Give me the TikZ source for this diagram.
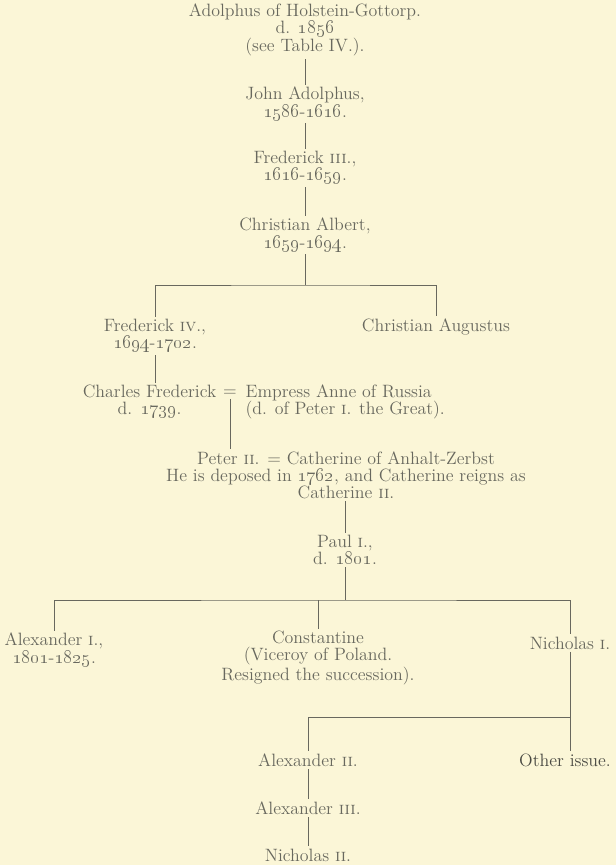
\documentclass[tikz,border=0pt]{standalone}
\usepackage{tikz}
\usetikzlibrary{positioning, calc}
\definecolor{paper}{HTML}{FBF6D7}
\definecolor{ink}{HTML}{68685E}
\newcommand{\yr}[1]{\oldstylenums{#1}}
\newcommand{\rn}[1]{\textsc{#1}}

\begin{document}
\begin{tikzpicture}[
	x=0.75pt, y=-0.75pt,
	person/.style={align=center, inner sep=1pt, outer sep=1pt, text=ink, font=\fontsize{13.4}{12.8}\selectfont},
	line/.style={draw=ink, line width=0.5pt}
]
	\useasboundingbox (0,0) rectangle (616,865);
	\fill[paper] (0,0) rectangle (616,865);

	% Holstein-Gottorp line
	\node[person] (adolphus) at (305,30) {Adolphus of Holstein-Gottorp.\\d. \yr{1856}\\(see Table IV.).};
	\node[person] (jadolphus) at (305,104) {John Adolphus,\\\yr{1586}-\yr{1616}.};
	\node[person] (fred3) at (305,168) {Frederick \rn{iii}.,\\\yr{1616}-\yr{1659}.};
	\node[person] (calbert) at (305,235) {Christian Albert,\\\yr{1659}-\yr{1694}.};
	\coordinate (bar1) at (305,285);

	% Sons of Christian Albert
	\node[person] (fred4) at (155,336) {Frederick \rn{iv}.,\\\yr{1694}-\yr{1702}.};
	\node[person] (caug) at (436,327) {Christian Augustus};

	% Charles Frederick and his marriage
	\node[person, anchor=east] (charles) at (219,402) {Charles Frederick\\d. \yr{1739}.};
	\node[person] (marr1) at (230,393) {=};
	\node[person, anchor=west, align=left] (anne) at (243,402) {Empress Anne of Russia\\(d. of Peter \rn{i}. the Great).};

	% Russian line
	\node[person] (peter) at (346,475) {Peter \rn{ii}. = Catherine of Anhalt-Zerbst\\He is deposed in \yr{1762}, and Catherine reigns as\\Catherine \rn{ii}.};
	\node[person] (paul) at (345,550) {Paul \rn{i}.,\\d. \yr{1801}.};
	\coordinate (bar2) at (345,600);

	% Sons of Paul
	\node[person] (alex1) at (54,650) {Alexander \rn{i}.,\\\yr{1801}-\yr{1825}.};
	\node[person] (const) at (318,658) {Constantine\\(Viceroy of Poland.\\Resigned the succession).};
	\node[person] (nich1) at (570,643) {Nicholas \rn{i}.};
	\coordinate (bar3) at (570,717);

	% Sons of Nicholas I
	\node[person] (alex2) at (308,760) {Alexander \rn{ii}.};
	\node[person, text=ink!70!black] (other) at (565,760) {Other issue.};
	\node[person] (alex3) at (308,808) {Alexander \rn{iii}.};
	\node[person] (nich2) at (308,855) {Nicholas \rn{ii}.};

	% Lines of descent
	\draw[line] (adolphus) -- (jadolphus);
	\draw[line] (jadolphus) -- (fred3);
	\draw[line] (fred3) -- (calbert);
	\draw[line] (calbert) -- (bar1);
	\draw[line] (fred4.north) |- (bar1) -| (caug.north);
	\draw[line] (fred4.south) -- (fred4.south |- charles.north);
	\draw[line] (marr1.south) -- (marr1.south |- peter.north);
	\draw[line] (paul.north |- peter.south) -- (paul.north);
	\draw[line] (paul) -- (bar2);
	\draw[line] (alex1.north) |- (bar2) -| (nich1.north);
	\draw[line] (const) -- (const |- bar2);
	\draw[line] (nich1) -- (bar3);
	\draw[line] (alex2.north) |- (bar3) -- (bar3 |- other.north);
	\draw[line] (alex2) -- (alex3);
	\draw[line] (alex3) -- (nich2);
\end{tikzpicture}
\end{document}
